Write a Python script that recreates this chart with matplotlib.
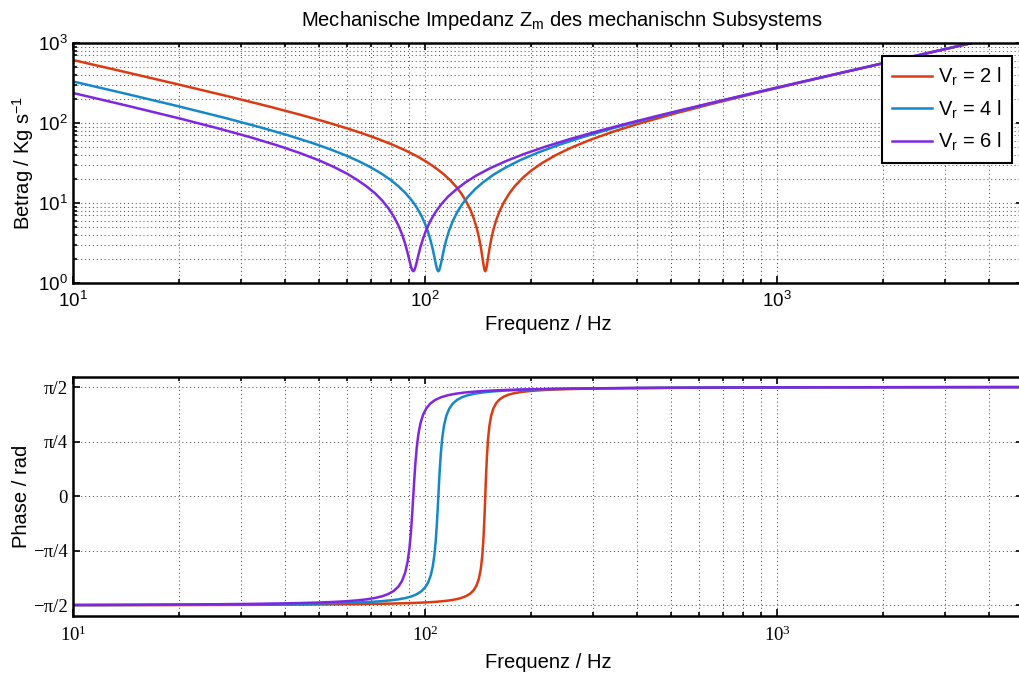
import numpy as np
import matplotlib
matplotlib.use('Agg')
import matplotlib.pyplot as plt
from matplotlib.ticker import LogLocator, NullFormatter

plt.rcParams['font.family'] = ['Liberation Sans', 'DejaVu Sans']
plt.rcParams['mathtext.default'] = 'regular'

# Vr = 2 l
f_2l = [10, 14, 20, 28, 36, 44, 52, 60, 67, 74,
        81, 88, 95, 101, 107, 113, 118, 123, 127, 131,
        134.5, 137.5, 140, 142.2, 144, 145.5, 146.7, 147.6, 148.3, 149.0,
        149.9, 151.0, 152.4, 154.2, 156.5, 159.5, 163, 167.5, 173, 180,
        189, 200, 215, 235, 260, 295, 340, 400, 500, 650,
        900, 1300, 2000, 3000, 5000]
betrag_2l = [613, 436, 302, 212, 161, 127.6, 103.9, 85.8, 73.2, 62.5,
             53.4, 45.4, 38.3, 32.7, 27.6, 22.9, 19.2, 15.7, 13.0, 10.4,
             8.24, 6.44, 4.99, 3.76, 2.82, 2.11, 1.67, 1.45, 1.40, 1.45,
             1.66, 2.05, 2.66, 3.53, 4.69, 6.21, 7.99, 10.2, 12.9, 16.3,
             20.4, 25.3, 31.6, 39.6, 49.1, 61.7, 77.1, 96.6, 127.7, 172.5,
             245.2, 359.3, 556.9, 837.9, 1398.8]
phase_2l = [-1.5685, -1.5676, -1.5662, -1.5642, -1.5621, -1.5598, -1.5573, -1.5545, -1.5517, -1.5484,
            -1.5446, -1.5399, -1.5342, -1.5280, -1.5201, -1.5096, -1.4978, -1.4815, -1.4629, -1.4361,
            -1.4001, -1.3518, -1.2864, -1.1892, -1.0506, -0.8467, -0.5718, -0.2737, 0.0, 0.2724,
            0.5667, 0.8195, 1.0174, 1.1630, 1.2674, 1.3435, 1.3945, 1.4336, 1.4622, 1.4845,
            1.5021, 1.5153, 1.5265, 1.5355, 1.5423, 1.5481, 1.5526, 1.5563, 1.5598, 1.5627,
            1.5651, 1.5669, 1.5683, 1.5691, 1.5698]

# Vr = 4 l
f_4l = [10, 14, 20, 27, 34, 41, 48, 54, 60, 65,
        70, 75, 80, 84, 88, 91.5, 94.5, 97.5, 100, 102,
        103.8, 105.2, 106.4, 107.3, 108.0, 108.6, 109.1, 109.6, 110.2, 110.9,
        111.9, 113.2, 114.9, 117.1, 120, 123.3, 127.5, 132.5, 139, 147,
        157, 170, 187, 210, 240, 280, 340, 420, 550, 750,
        1050, 1500, 2200, 3300, 5000]
betrag_4l = [330.5, 234.2, 161.1, 115.9, 88.5, 69.8, 56.0, 46.6, 38.8, 33.1,
             28.0, 23.5, 19.3, 16.2, 13.3, 10.9, 8.92, 7.03, 5.51, 4.35,
             3.35, 2.63, 2.08, 1.73, 1.53, 1.43, 1.40, 1.43, 1.53, 1.72,
             2.09, 2.65, 3.46, 4.55, 5.99, 7.62, 9.66, 12.0, 15.0, 18.5,
             22.8, 28.0, 34.6, 42.9, 53.3, 66.5, 85.4, 109.7, 147.9, 205.6,
             290.8, 417.8, 614.5, 923.0, 1399.3]
phase_4l = [-1.5666, -1.5648, -1.5621, -1.5587, -1.5550, -1.5507, -1.5458, -1.5408, -1.5347, -1.5285,
            -1.5209, -1.5111, -1.4982, -1.4844, -1.4654, -1.4420, -1.4132, -1.3702, -1.3139, -1.2430,
            -1.1400, -1.0095, -0.8307, -0.6292, -0.4175, -0.1995, 0.0, 0.1953, 0.4115, 0.6193,
            0.8349, 1.0148, 1.1542, 1.2577, 1.3349, 1.3861, 1.4254, 1.4541, 1.4774, 1.4952,
            1.5093, 1.5208, 1.5303, 1.5382, 1.5445, 1.5498, 1.5544, 1.5580, 1.5613, 1.5640,
            1.5660, 1.5675, 1.5685, 1.5693, 1.5698]

# Vr = 6 l
f_6l = [10, 14, 20, 26, 32, 38, 44, 50, 55, 60,
        64, 68, 72, 75.5, 78.5, 81.5, 84, 86, 87.8, 89.2,
        90.3, 91.2, 91.9, 92.6, 93.2, 93.9, 94.7, 95.7, 97, 98.7,
        100.8, 103.5, 106.8, 111, 116, 122, 130, 140, 153, 170,
        192, 220, 260, 310, 380, 480, 620, 820, 1100, 1500,
        2100, 3000, 5000]
betrag_6l = [237.3, 167.6, 114.5, 85.1, 66.1, 52.6, 42.3, 34.1, 28.3, 23.3,
             19.6, 16.3, 13.3, 10.8, 8.72, 6.79, 5.25, 4.09, 3.10, 2.39,
             1.91, 1.61, 1.45, 1.40, 1.44, 1.58, 1.82, 2.21, 2.79, 3.59,
             4.62, 5.95, 7.55, 9.55, 11.9, 14.5, 18.0, 22.1, 27.2, 33.5,
             41.3, 50.7, 63.6, 79.1, 100.1, 129.4, 169.7, 226.7, 305.8, 418.4,
             586.9, 839.2, 1399.5]
phase_6l = [-1.5649, -1.5625, -1.5586, -1.5543, -1.5496, -1.5442, -1.5377, -1.5297, -1.5213, -1.5106,
            -1.4995, -1.4850, -1.4650, -1.4402, -1.4095, -1.3630, -1.3010, -1.2211, -1.1017, -0.9459,
            -0.7503, -0.5142, -0.2744, 0.0, 0.2342, 0.4761, 0.6928, 0.8839, 1.0440, 1.1707,
            1.2631, 1.3332, 1.3844, 1.4237, 1.4525, 1.4744, 1.4929, 1.5074, 1.5193, 1.5290,
            1.5369, 1.5432, 1.5488, 1.5531, 1.5568, 1.5600, 1.5626, 1.5646, 1.5662, 1.5675,
            1.5684, 1.5691, 1.5698]

labels = ['V$_r$ = 2 l', 'V$_r$ = 4 l', 'V$_r$ = 6 l']
colors = ['#dc3a12', '#1488c8', '#7f26e2']
freqs = [f_2l, f_4l, f_6l]
betraege = [betrag_2l, betrag_4l, betrag_6l]
phasen = [phase_2l, phase_4l, phase_6l]

phase_ticks = [-np.pi / 2, -np.pi / 4, 0, np.pi / 4, np.pi / 2]
phase_ticklabels = ['\u2212\u03c0/2', '\u2212\u03c0/4', '0', '\u03c0/4', '\u03c0/2']

fs = 14.5
tfs = 13.5
lw = 1.8
grid_style = dict(linestyle=(0, (1, 3)), color='0.25', linewidth=0.7)

fig = plt.figure(figsize=(10.2, 6.73), dpi=100)
ax1 = fig.add_axes([0.0716, 0.5795, 0.9314, 0.3566])
ax2 = fig.add_axes([0.0716, 0.0851, 0.9314, 0.3552])

for f, b, c, l in zip(freqs, betraege, colors, labels):
    ax1.plot(f, b, color=c, linewidth=lw, label=l)
ax1.set_xscale('log')
ax1.set_yscale('log')
ax1.set_xlim(10, 5000)
ax1.set_ylim(1, 1000)
ax1.yaxis.set_minor_locator(LogLocator(subs=np.arange(2, 10)))
ax1.yaxis.set_minor_formatter(NullFormatter())
ax1.xaxis.set_minor_formatter(NullFormatter())
ax1.grid(True, which='both', **grid_style)
ax1.set_axisbelow(True)
ax1.set_xlabel('Frequenz / Hz', fontsize=fs, labelpad=3)
ax1.set_ylabel('Betrag / Kg s$^{\u22121}$', fontsize=fs, labelpad=1)
ax1.set_title('Mechanische Impedanz Z$_m$ des mechanischn Subsystems', fontsize=fs, x=0.514, pad=12)
leg = ax1.legend(loc='upper right', bbox_to_anchor=(0.9884, 0.946), borderaxespad=0,
                 fancybox=False, edgecolor='black', framealpha=1, fontsize=fs,
                 handlelength=2.0, handletextpad=0.3, labelspacing=0.5, borderpad=0.5)
leg.get_frame().set_linewidth(1.5)

for f, p, c in zip(freqs, phasen, colors):
    ax2.plot(f, p, color=c, linewidth=lw)
ax2.set_xscale('log')
ax2.set_xlim(10, 5000)
ax2.set_ylim(-1.72, 1.72)
ax2.set_yticks(phase_ticks)
ax2.set_yticklabels(phase_ticklabels)
ax2.xaxis.set_minor_formatter(NullFormatter())
ax2.grid(True, which='major', axis='y', **grid_style)
ax2.grid(True, which='both', axis='x', **grid_style)
ax2.set_axisbelow(True)
ax2.set_ylabel('Phase / rad', fontsize=fs, labelpad=1)
ax2.tick_params(which='both', labelfontfamily='Liberation Serif')

for ax in (ax1, ax2):
    ax.tick_params(which='both', direction='in', top=True, right=True, labelsize=tfs, width=1.2)
    ax.tick_params(which='major', length=5, pad=4)
    ax.tick_params(which='minor', length=3)
    for s in ax.spines.values():
        s.set_linewidth(1.8)
ax1.tick_params(axis='x', which='major', pad=5.5)
ax2.tick_params(axis='x', which='major', pad=7)
ax2.set_xlabel('Frequenz / Hz', fontsize=fs, labelpad=6)

fig.savefig('out.png', dpi=100)
